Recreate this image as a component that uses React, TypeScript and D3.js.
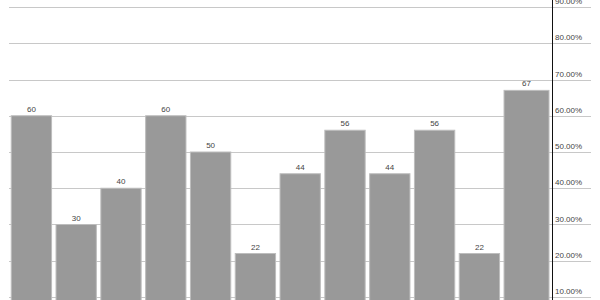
import React from "react";
import * as d3 from "d3";

const categories = ["A", "B", "C", "D", "E", "F", "G", "H", "I", "J", "K", "L"];
const values = [60, 30, 40, 60, 50, 22, 44, 56, 44, 56, 22, 67];
const percentTicks = [0.1, 0.2, 0.3, 0.4, 0.5, 0.6, 0.7, 0.8, 0.9];

const W = 600;
const H = 300;

export default function App() {
  const axisX = 552;
  const gridLeft = 9;
  const gridRight = 591;

  // shared vertical scale: bar value v is plotted at v/100 on the percent axis
  const y = d3.scaleLinear().domain([0, 1]).range([333.25, -29.25]);
  const x = d3
    .scaleBand<string>()
    .domain(categories)
    .range([9, 546.6])
    .paddingInner(0.1)
    .paddingOuter(0.05);

  const fmt = d3.format(".2%");
  const last = categories.length - 1;

  return (
    <svg
      width={W}
      height={H}
      style={{ position: "absolute", left: 0, top: 0, display: "block", background: "#fff" }}
      fontFamily="'Liberation Sans', Arial, sans-serif"
    >
      {percentTicks.map((t) => (
        <line
          key={"g" + t}
          x1={gridLeft}
          x2={gridRight}
          y1={Math.round(y(t)) + 0.5}
          y2={Math.round(y(t)) + 0.5}
          stroke="#c8c8c8"
          strokeWidth={1}
        />
      ))}
      {values.map((v, i) => {
        const x0 = x(categories[i])!;
        const w = i === last ? axisX - 3 - x0 : x.bandwidth();
        const top = y(v / 100);
        return (
          <g key={categories[i]}>
            <rect
              x={x0}
              y={top}
              width={w}
              height={y(0) - top}
              fill="#999999"
              stroke="#bdbdbd"
              strokeWidth={1}
            />
            <text
              x={x0 + w / 2}
              y={top - 4}
              textAnchor="middle"
              fontSize={8}
              fill="#444"
            >
              {v}
            </text>
          </g>
        );
      })}
      <line x1={axisX + 0.5} x2={axisX + 0.5} y1={0} y2={H} stroke="#111" strokeWidth={1} />
      {percentTicks.map((t) => (
        <text
          key={"l" + t}
          x={axisX + 3}
          y={y(t) - 3}
          fontSize={8}
          fill="#444"
        >
          {fmt(t)}
        </text>
      ))}
    </svg>
  );
}
